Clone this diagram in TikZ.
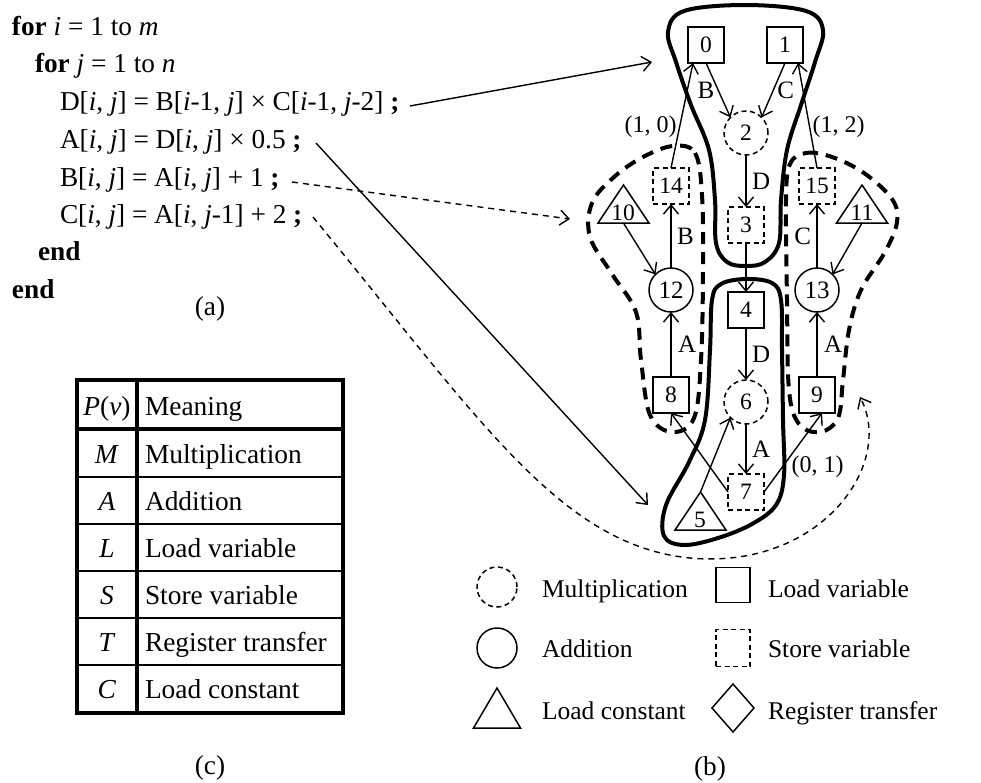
\documentclass[tikz,border=0pt]{standalone}
\usepackage{fontspec}
\setmainfont{Liberation Serif}
\usetikzlibrary{arrows.meta,shapes.geometric}
\newcommand\codefont{\fontsize{27.3pt}{32pt}\selectfont}
\newcommand\numfont{\fontsize{23.5pt}{27pt}\selectfont}
\newcommand\bignumfont{\fontsize{25pt}{29pt}\selectfont}
\newcommand\lblfont{\fontsize{25pt}{29pt}\selectfont}
\newcommand\pairfont{\fontsize{24pt}{28pt}\selectfont}
\newcommand\legfont{\fontsize{25.5pt}{30pt}\selectfont}
\newcommand\tabfont{\fontsize{27.4pt}{32pt}\selectfont}
\begin{document}
\begin{tikzpicture}[x=1pt,y=-1pt,
  every node/.style={inner sep=0pt,outer sep=0pt},
  arr/.style={line width=1.4pt,-{Straight Barb[length=9pt,width=15pt,line width=1.4pt]}},
  darr/.style={arr,dash pattern=on 6pt off 5pt},
  box/.style={draw,line width=1.5pt,minimum size=36pt,font=\numfont},
  dbox/.style={box,dash pattern=on 5pt off 3.5pt},
  circ/.style={draw,circle,line width=1.5pt,minimum size=44pt,font=\bignumfont},
  dcirc/.style={circ,font=\numfont,dash pattern=on 5pt off 3.5pt},
  tri/.style={draw,isosceles triangle,isosceles triangle stretches,shape border rotate=90,
    minimum width=51pt,minimum height=38pt,line width=1.5pt,anchor=south},
  num/.style={font=\numfont,anchor=base},
  lbl/.style={font=\lblfont},
  pair/.style={font=\pairfont},
  grp/.style={line width=4pt,line join=round},
  dgrp/.style={grp,dash pattern=on 12pt off 8pt},
  code/.style={font=\codefont,anchor=base west},
  leg/.style={font=\legfont,anchor=base west},
  cell/.style={font=\tabfont,anchor=base},
  celltext/.style={font=\tabfont,anchor=base west}]
\useasboundingbox (0,0) rectangle (981,782);

% ---------- (a) loop nest ----------
\node[code] (l1) at (12,35)  {\textbf{for} \textit{i} = 1 to \textit{m}};
\node[code] (l2) at (35,72)  {\textbf{for} \textit{j} = 1 to \textit{n}};
\node[code] (l3) at (60,110) {D[\textit{i}, \textit{j}] = B[\textit{i}-1, \textit{j}] × C[\textit{i}-1, \textit{j}-2] \textbf{;}};
\node[code] (l4) at (60,148) {A[\textit{i}, \textit{j}] = D[\textit{i}, \textit{j}] × 0.5 \textbf{;}};
\node[code] (l5) at (60,186) {B[\textit{i}, \textit{j}] = A[\textit{i}, \textit{j}] + 1 \textbf{;}};
\node[code] (l6) at (60,223) {C[\textit{i}, \textit{j}] = A[\textit{i}, \textit{j}-1] + 2 \textbf{;}};
\node[code] (l7) at (38,260) {\textbf{end}};
\node[code] (l8) at (12,298) {\textbf{end}};
\node[font=\codefont,anchor=base] (capa) at (210,315) {(a)};

% ---------- (b) data-flow graph ----------
\node[box]  (n0)  at (706,45)  {0};
\node[box]  (n1)  at (785,45)  {1};
\node[dcirc] (n2) at (746,133) {2};
\node[dbox] (n3)  at (746,225) {3};
\node[dbox] (n14) at (671,186) {14};
\node[dbox] (n15) at (817,186) {15};
\node[circ] (n12) at (671,290) {12};
\node[circ] (n13) at (817,290) {13};
\node[box]  (n4)  at (746,310) {4};
\node[box]  (n8)  at (671,395) {8};
\node[box]  (n9)  at (817,395) {9};
\node[dcirc] (n6) at (746,402) {6};
\node[dbox] (n7)  at (746,492) {7};
\node[tri] (t10) at (623.5,223) {};
\node[num] (t10n) at (623,220) {10};
\node[tri] (t11) at (862,223) {};
\node[num] (t11n) at (862,220) {11};
\node[tri] (t5) at (700.5,530) {};
\node[num] (t5n) at (700,527) {5};

% group outlines
\draw[grp] plot[smooth cycle,tension=0.6] coordinates {
  (668,32) (684,11) (745,5) (806,11) (823,30) (815,62) (801,105) (787,150)
  (781,200) (779,243) (765,262) (746,266) (727,262) (716,243) (715,200)
  (709,150) (691,105) (676,62)};
\draw[grp] plot[smooth cycle,tension=0.6] coordinates {
  (746,279) (772,283) (781,300) (782,350) (783,420) (784,475) (776,505)
  (752,524) (718,538) (684,545) (664,536) (666,505) (689,462) (705,420)
  (710,350) (712,300) (721,284)};
\draw[dgrp] plot[smooth cycle,tension=0.6] coordinates {
  (673,146) (695,153) (702,195) (703,270) (701,360) (694,418) (672,432)
  (650,415) (641,360) (636,312) (612,274) (590,237) (592,203) (614,177)
  (643,157)};
\draw[dgrp] plot[smooth cycle,tension=0.6] coordinates {
  (790,164) (806,153) (832,157) (864,173) (892,199) (897,222) (885,252)
  (861,290) (849,330) (843,380) (838,418) (820,432) (799,424) (789,390)
  (787,300) (786,200)};

% edges
\draw[arr] (n0.south) -- (n2.north west) node[lbl,midway,left=4pt] {B};
\draw[arr] (n1.south) -- (n2.north east) node[lbl,midway,right=4pt] {C};
\draw[arr] (n2) -- (n3) node[lbl,midway,right=6pt] {D};
\draw[arr] (n14.north) -- ([xshift=5pt]n0.south west) node[pair,pos=0.39,left=3pt] {(1, 0)};
\draw[arr] (n15.north) -- ([xshift=-5pt]n1.south east) node[pair,pos=0.39,right=3pt] {(1, 2)};
\draw[arr] (n12) -- (n14) node[lbl,midway,right=6pt] {B};
\draw[arr] (n13) -- (n15) node[lbl,midway,left=6pt] {C};
\draw[arr] (t10.south) -- (n12.north west);
\draw[arr] (t11.south) -- (n13.north east);
\draw[arr] (n3) -- (n4);
\draw[arr] (n8) -- (n12) node[lbl,midway,right=7pt] {A};
\draw[arr] (n9) -- (n13) node[lbl,midway,right=7pt] {A};
\draw[arr] (n4) -- (n6) node[lbl,midway,right=6pt] {D};
\draw[arr] (n6) -- (n7) node[lbl,midway,right=6pt] {A};
\draw[arr] (n7.west) -- (n8.south);
\draw[arr] (n7.east) -- ([xshift=5pt]n9.south) node[pair,pos=0.32,right=9pt] {(0, 1)};
\draw[arr] (t5.apex) -- (n6.south west);

% statements mapped onto the graph
\coordinate (a3s) at (410,106); \coordinate (a3e) at (652,62);
\coordinate (a4s) at (316,143); \coordinate (a4e) at (648,505);
\coordinate (a5s) at (292,182); \coordinate (a5e) at (570,219);
\coordinate (a6s) at (313,217); \coordinate (a6e) at (860,397);
\draw[arr] (a3s) -- (a3e);
\draw[arr] (a4s) -- (a4e);
\draw[darr] (a5s) -- (a5e);
\draw[darr] (a6s) .. controls (480,420) and (560,545) .. (690,558)
  .. controls (820,570) and (895,465) .. (a6e);

% legend
\node[dcirc,minimum size=40pt] (lg1) at (497,587) {};
\node[circ,minimum size=40pt]  (lg2) at (497,648) {};
\node[tri,minimum width=47pt,minimum height=40pt] (lg3) at (497,728) {};
\node[box,minimum width=34pt,minimum height=35pt] (lg4) at (733,585) {};
\node[dbox,minimum width=34pt,minimum height=37pt] (lg5) at (733,648) {};
\node[draw,diamond,line width=1.5pt,minimum width=42pt,minimum height=48pt] (lg6) at (733,708) {};
\node[leg] (lt1) at (542,597) {Multiplication};
\node[leg] (lt2) at (542,657) {Addition};
\node[leg] (lt3) at (542,719) {Load constant};
\node[leg] (lt4) at (768,597) {Load variable};
\node[leg] (lt5) at (768,657) {Store variable};
\node[leg] (lt6) at (768,719) {Register transfer};
\node[font=\codefont,anchor=base] (capb) at (710,775) {(b)};

% ---------- (c) table ----------
\draw[line width=2pt] (77,477) -- (343,477) (77,524) -- (343,524) (77,571) -- (343,571)
  (77,618) -- (343,618) (77,665) -- (343,665);
\draw[line width=3.5pt] (77,429) -- (343,429) (137,380) -- (137,713);
\draw[line width=4pt] (77,380) rectangle (343,713);
\node[cell] (h1) at (107,415) {\textit{P}(\textit{v})};
\node[celltext] (h2) at (145,415) {Meaning};
\node[cell] (r1) at (107,463) {\textit{M}};
\node[celltext] (m1) at (145,463) {Multiplication};
\node[cell] (r2) at (107,510) {\textit{A}};
\node[celltext] (m2) at (145,510) {Addition};
\node[cell] (r3) at (107,557) {\textit{L}};
\node[celltext] (m3) at (145,557) {Load variable};
\node[cell] (r4) at (107,604) {\textit{S}};
\node[celltext] (m4) at (145,604) {Store variable};
\node[cell] (r5) at (107,651) {\textit{T}};
\node[celltext] (m5) at (145,651) {Register transfer};
\node[cell] (r6) at (107,698) {\textit{C}};
\node[celltext] (m6) at (145,698) {Load constant};
\node[font=\codefont,anchor=base] (capc) at (210,774) {(c)};
\end{tikzpicture}
\end{document}
